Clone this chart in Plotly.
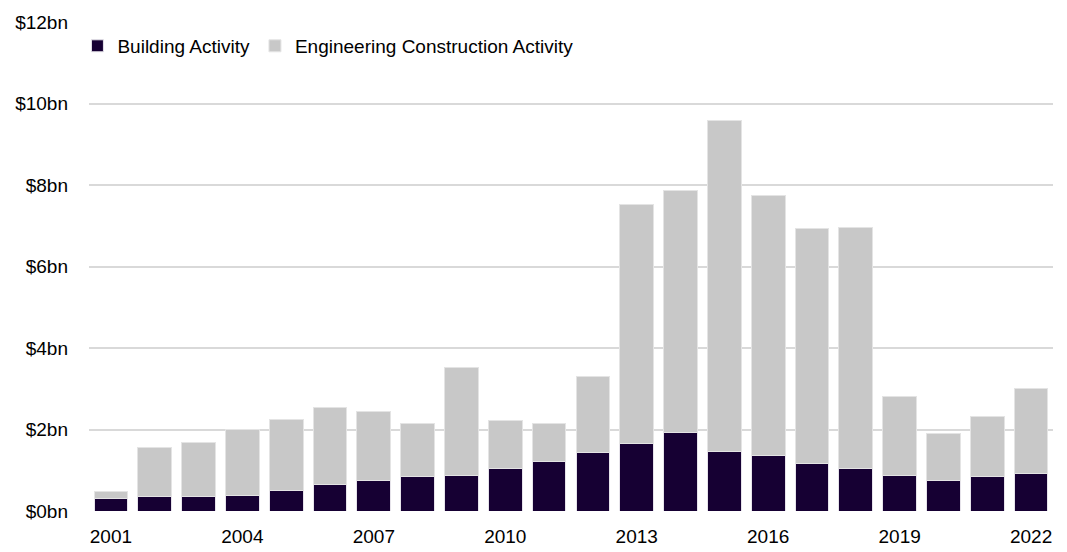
import plotly.graph_objects as go

# -----------------------------
# Construction activity by year ($bn)
# -----------------------------
years = list(range(2001, 2023))
building = [0.30, 0.35, 0.36, 0.39, 0.51, 0.66, 0.74, 0.85, 0.88, 1.04, 1.21,
            1.43, 1.66, 1.92, 1.46, 1.37, 1.16, 1.05, 0.88, 0.74, 0.84, 0.91]
total = [0.47, 1.57, 1.69, 2.01, 2.25, 2.53, 2.45, 2.14, 3.53, 2.21, 2.14,
         3.29, 7.53, 7.86, 9.59, 7.74, 6.94, 6.96, 2.82, 1.89, 2.31, 3.01]
engineering = [round(t - b, 2) for t, b in zip(total, building)]

y_ticks = [0, 2, 4, 6, 8, 10, 12]
y_labels = ['$0bn', '$2bn', '$4bn', '$6bn', '$8bn', '$10bn', '$12bn']
x_ticks = [2001, 2004, 2007, 2010, 2013, 2016, 2019, 2022]

fig = go.Figure()
fig.add_trace(go.Bar(x=years, y=building, name='Building Activity',
                     marker=dict(color='#160033', line=dict(color='#E6E3EA', width=1))))
fig.add_trace(go.Bar(x=years, y=engineering, name='Engineering Construction Activity',
                     marker=dict(color='#C8C8C8', line=dict(color='#E4E4E4', width=1))))

# page body has an 8px margin, so the figure is sized to fit the 1067x552 window
fig.update_layout(
    barmode='stack',
    bargap=0.23,
    width=1059, height=544,
    margin=dict(l=81, r=14, t=14, b=41),
    plot_bgcolor='white', paper_bgcolor='white',
    font=dict(family='Liberation Sans, Arial', size=19, color='#000000'),
    showlegend=True,
    legend=dict(orientation='h', x=-0.012, y=0.951, xanchor='left', yanchor='middle',
                font=dict(size=19), traceorder='normal',
                bgcolor='rgba(0,0,0,0)'),
)
fig.update_xaxes(range=[2000.5, 2022.5], tickvals=x_ticks, ticktext=[str(v) for v in x_ticks],
                 showgrid=False, zeroline=False, showline=False, ticks='',
                 ticklabelstandoff=12, automargin=False)
fig.update_yaxes(range=[0, 12], tickvals=y_ticks, ticktext=y_labels,
                 showgrid=True, gridcolor='#D9D9D9', gridwidth=2, zeroline=False,
                 showline=False, ticks='', ticklabelstandoff=20, automargin=False)

fig.write_html('out.html')
